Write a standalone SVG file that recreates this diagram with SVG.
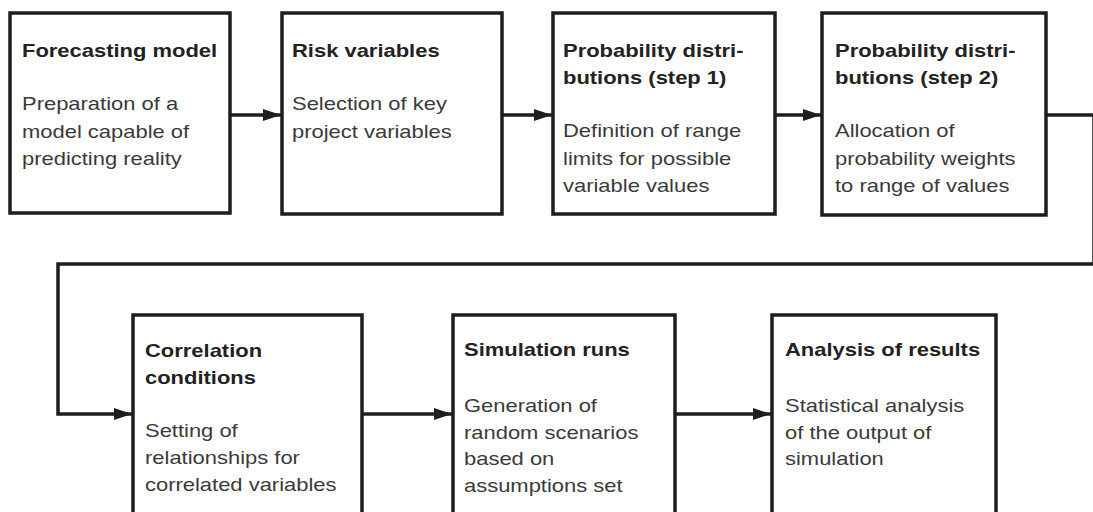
<svg xmlns="http://www.w3.org/2000/svg" width="1093" height="512" viewBox="0 0 1093 512">
  <defs>
    <style>
      .box { fill: #ffffff; stroke: #1e1e1e; stroke-width: 3.5; }
      .wire { fill: none; stroke: #1e1e1e; stroke-width: 3.5; }
      .ttl { font-family: "Liberation Sans", Arial, sans-serif; font-size: 18px; font-weight: bold; fill: #222222; }
      .txt { font-family: "Liberation Sans", Arial, sans-serif; font-size: 18px; fill: #3a3a3a; }
    </style>
    <marker id="arrow" viewBox="0 0 18 12" refX="18" refY="6" markerUnits="userSpaceOnUse" markerWidth="18" markerHeight="12" orient="auto">
      <path d="M0,0 L18,6 L0,12 Z" fill="#1e1e1e"/>
    </marker>
  </defs>
  <rect width="1093" height="512" fill="#ffffff"/>

  <!-- connectors -->
  <g id="connectors">
    <path class="wire" d="M230,115 H281" marker-end="url(#arrow)"/>
    <path class="wire" d="M502,115 H552" marker-end="url(#arrow)"/>
    <path class="wire" d="M775,115 H821" marker-end="url(#arrow)"/>
    <path class="wire" d="M1046,115 H1094 V264 H58 V414 H132" marker-end="url(#arrow)"/>
    <path class="wire" d="M362,414 H452" marker-end="url(#arrow)"/>
    <path class="wire" d="M675,414 H771" marker-end="url(#arrow)"/>
  </g>

  <!-- top row -->
  <g id="forecasting-model">
    <rect class="box" x="10" y="13" width="220" height="200"/>
    <g transform="translate(22,0) scale(1.22,1)">
      <text class="ttl" x="0" y="57">Forecasting model</text>
      <text class="txt" x="0" y="110">Preparation of a</text>
      <text class="txt" x="0" y="138">model capable of</text>
      <text class="txt" x="0" y="165">predicting reality</text>
    </g>
  </g>

  <g id="risk-variables">
    <rect class="box" x="282" y="13" width="220" height="201"/>
    <g transform="translate(292,0) scale(1.22,1)">
      <text class="ttl" x="0" y="57">Risk variables</text>
      <text class="txt" x="0" y="110">Selection of key</text>
      <text class="txt" x="0" y="138">project variables</text>
    </g>
  </g>

  <g id="prob-dist-1">
    <rect class="box" x="553" y="13" width="222" height="201"/>
    <g transform="translate(563,0) scale(1.22,1)">
      <text class="ttl" x="0" y="57">Probability distri-</text>
      <text class="ttl" x="0" y="84">butions (step 1)</text>
      <text class="txt" x="0" y="137">Definition of range</text>
      <text class="txt" x="0" y="165">limits for possible</text>
      <text class="txt" x="0" y="192">variable values</text>
    </g>
  </g>

  <g id="prob-dist-2">
    <rect class="box" x="822" y="13" width="224" height="202"/>
    <g transform="translate(835,0) scale(1.22,1)">
      <text class="ttl" x="0" y="57">Probability distri-</text>
      <text class="ttl" x="0" y="84">butions (step 2)</text>
      <text class="txt" x="0" y="137">Allocation of</text>
      <text class="txt" x="0" y="165">probability weights</text>
      <text class="txt" x="0" y="192">to range of values</text>
    </g>
  </g>

  <!-- bottom row -->
  <g id="correlation-conditions">
    <rect class="box" x="133" y="315" width="229" height="220"/>
    <g transform="translate(145,0) scale(1.22,1)">
      <text class="ttl" x="0" y="357">Correlation</text>
      <text class="ttl" x="0" y="384">conditions</text>
      <text class="txt" x="0" y="437">Setting of</text>
      <text class="txt" x="0" y="464">relationships for</text>
      <text class="txt" x="0" y="491">correlated variables</text>
    </g>
  </g>

  <g id="simulation-runs">
    <rect class="box" x="453" y="315" width="222" height="220"/>
    <g transform="translate(464,0) scale(1.22,1)">
      <text class="ttl" x="0" y="356">Simulation runs</text>
      <text class="txt" x="0" y="412">Generation of</text>
      <text class="txt" x="0" y="439">random scenarios</text>
      <text class="txt" x="0" y="465">based on</text>
      <text class="txt" x="0" y="492">assumptions set</text>
    </g>
  </g>

  <g id="analysis-of-results">
    <rect class="box" x="772" y="315" width="224" height="220"/>
    <g transform="translate(785,0) scale(1.22,1)">
      <text class="ttl" x="0" y="356">Analysis of results</text>
      <text class="txt" x="0" y="412">Statistical analysis</text>
      <text class="txt" x="0" y="439">of the output of</text>
      <text class="txt" x="0" y="465">simulation</text>
    </g>
  </g>
</svg>
